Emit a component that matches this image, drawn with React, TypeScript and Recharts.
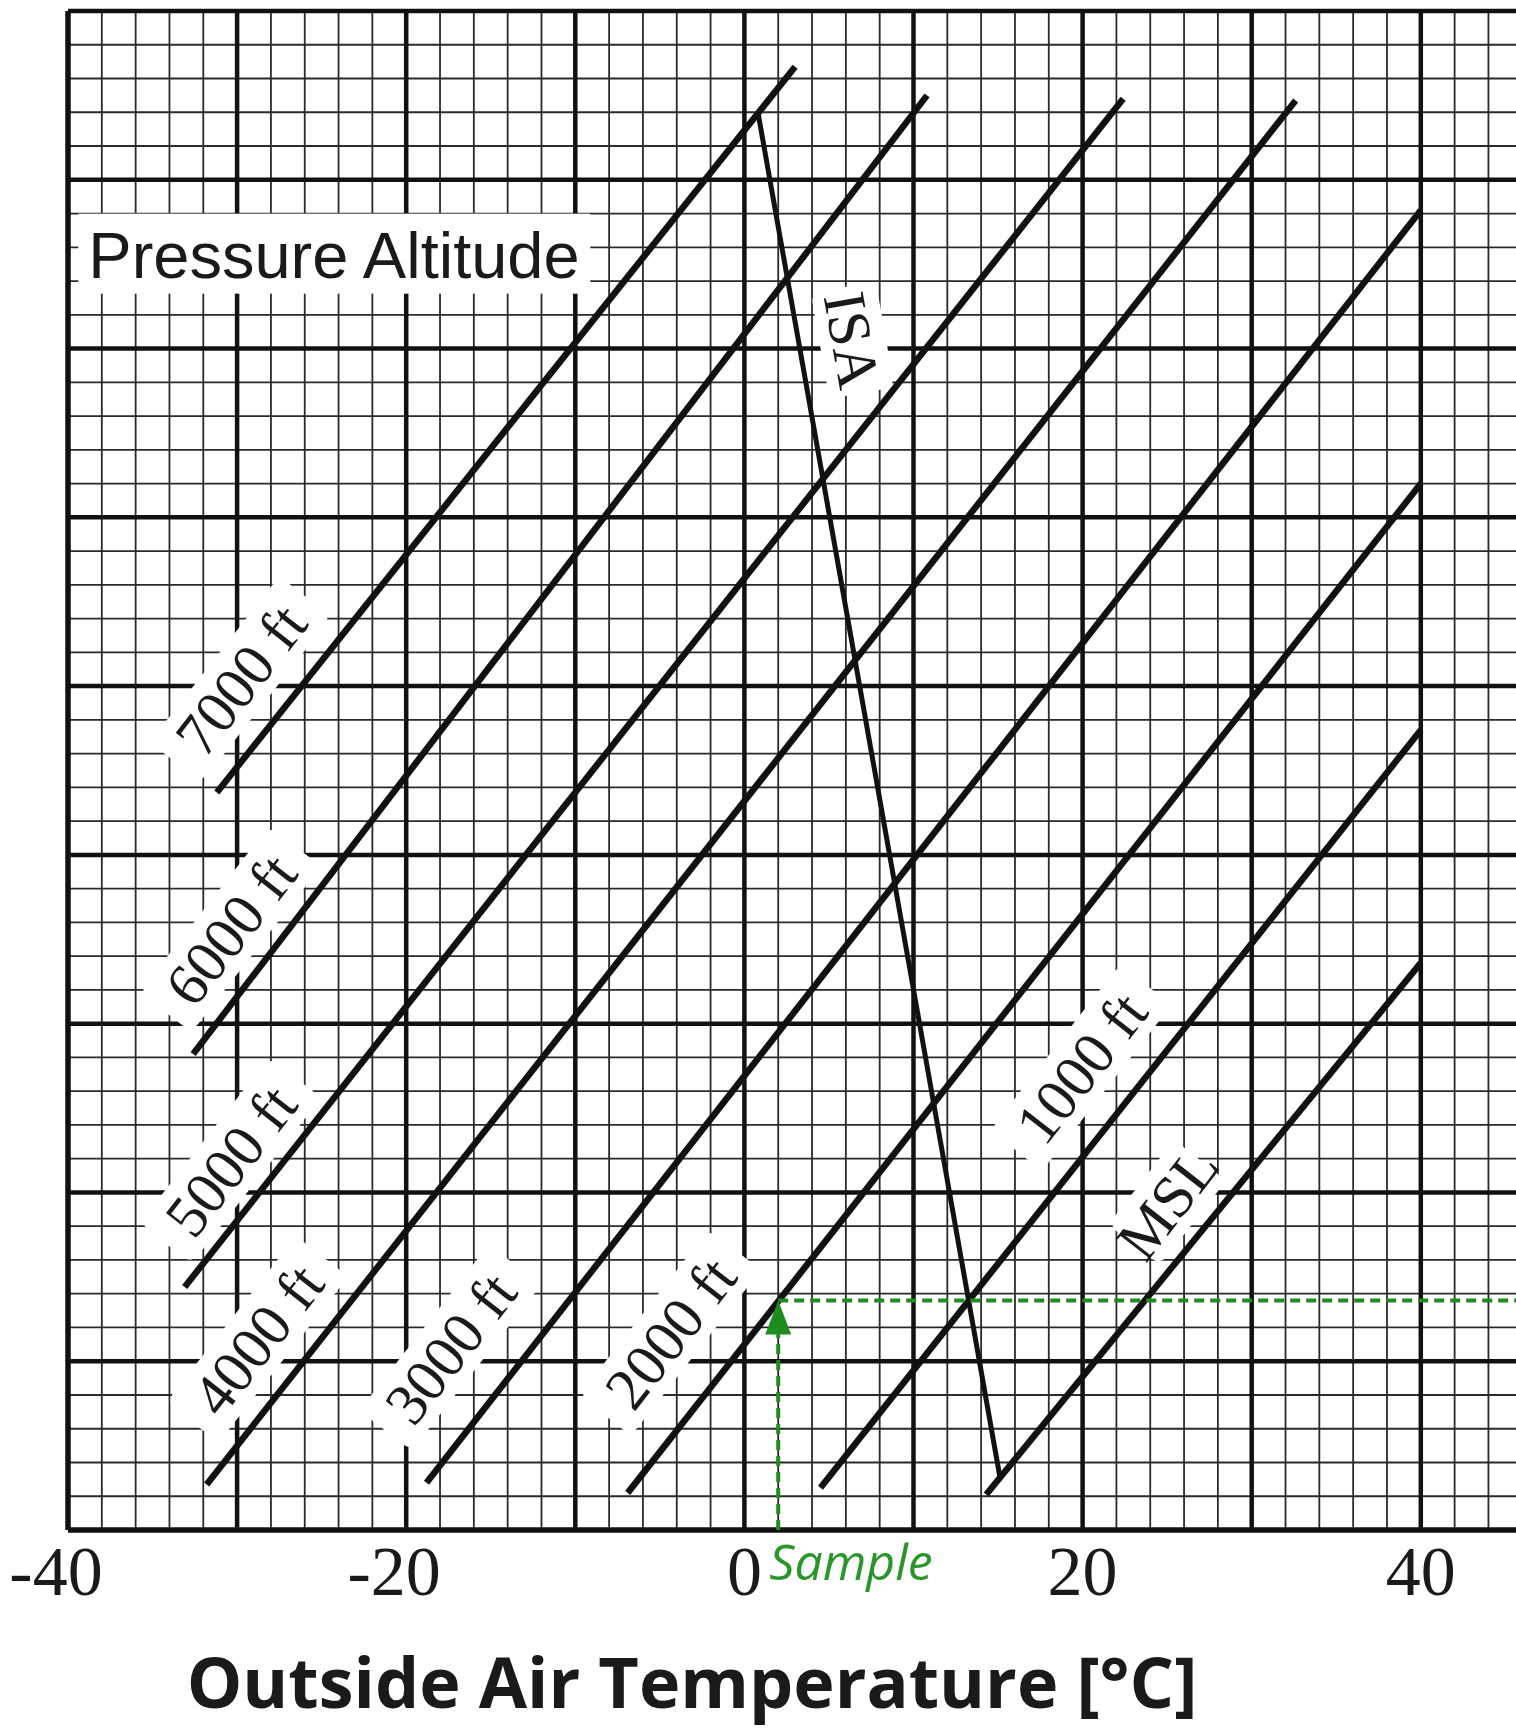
import React from "react";
import {
    ComposedChart,
    Line,
    XAxis,
    YAxis,
    ReferenceLine,
    ReferenceDot,
} from "recharts";

// ─── Data ───────────────────────────────────────────────
const tempTicks = [-40, -20, 0, 20, 40];
const tempMax = 45.63;

// pressure altitude lines (temperature °C, chart grid units 0..90)
const altitudeNames = ["7000 ft", "6000 ft", "5000 ft", "4000 ft", "3000 ft", "2000 ft", "1000 ft", "MSL"];
const lineStartTemp = [-31.2, -32.6, -33.1, -31.8, -18.8, -6.9, 4.5, 14.3];
const lineStartY = [43.7, 28.2, 14.4, 2.7, 2.8, 2.2, 2.5, 2.1];
const lineEndTemp = [3.0, 10.8, 22.4, 32.6, 40.0, 40.0, 40.0, 40.0];
const lineEndY = [86.7, 85.0, 84.8, 84.7, 78.2, 62.0, 47.4, 33.6];

// where each altitude label sits
const labelTemp = [-29.8, -30.4, -30.4, -28.8, -17.4, -4.4, 19.9, 25.0];
const labelY = [50.4, 35.6, 21.9, 11.3, 10.8, 11.7, 27.4, 19.4];

// ISA line
const isaTemp = [0.8, 15.1];
const isaY = [84.0, 3.2];
const isaLabelTemp = 6.4;
const isaLabelY = 70.5;

// sample reading
const sampleTemp = 2;
const sampleY = 13.6;
const sampleArrowBaseY = 11.6;

const titleAnchorTemp = -38.8;
const titleAnchorY = 74.2;

// ─── Helpers ────────────────────────────────────────────
const SERIF = "'Liberation Serif', 'DejaVu Serif', serif";
const SANS = "'Open Sans', 'Noto Sans', sans-serif";
const GREEN = "#1e8c1e";

function range(from: number, to: number, step: number): number[] {
    const out: number[] = [];
    for (let v = from; v <= to + 1e-9; v += step) out.push(v);
    return out;
}

const majorT = range(-40, 40, 10);
const minorT = range(-40, 44, 2).filter((v) => v % 10 !== 0);
const majorY = range(0, 90, 10);
const minorY = range(0, 90, 2).filter((v) => v % 10 !== 0);

const altitudeLines = altitudeNames.map((name, i) => ({
    name,
    data: [
        { x: lineStartTemp[i], y: lineStartY[i] },
        { x: lineEndTemp[i], y: lineEndY[i] },
    ],
}));

const isaData = isaTemp.map((t, i) => ({ x: t, y: isaY[i] }));
const sampleUp = [
    { x: sampleTemp, y: 0 },
    { x: sampleTemp, y: sampleArrowBaseY },
];
const sampleAcross = [
    { x: sampleTemp, y: sampleY },
    { x: tempMax, y: sampleY },
];

// ─── Label shapes ───────────────────────────────────────
function RotatedLabel({ cx, cy, text, angle }: { cx: number; cy: number; text: string; angle: number }) {
    const fontSize = 60;
    const w = text.length * fontSize * 0.43 + 30;
    const h = fontSize + 6;
    return (
        <g transform={`translate(${cx},${cy}) rotate(${angle})`}>
            <rect x={-w / 2} y={-h / 2} width={w} height={h} rx={10} fill="#fff" />
            <text
                textAnchor="middle"
                dy="0.35em"
                fontFamily={SERIF}
                fontSize={fontSize}
                fill="#1a1a1a"
            >
                {text}
            </text>
        </g>
    );
}

function TempTick({ x, y, payload }: { x: number; y: number; payload: { value: number } }) {
    const v = payload.value;
    const shift = v < 0 ? -12 : 0; // digits centred on the tick, minus hangs left
    return (
        <text x={x + shift} y={y + 65} textAnchor="middle" fontFamily={SERIF} fontSize={70} fill="#1a1a1a">
            {v}
        </text>
    );
}

function AxisTitle(props: any) {
    const vb = props.viewBox || { x: 68, y: 1530 };
    return (
        <text
            x={vb.x + 624}
            y={vb.y + 178}
            textAnchor="middle"
            fontFamily={SANS}
            fontWeight={700}
            fontSize={70}
            fill="#1a1a1a"
        >
            Outside Air Temperature [°C]
        </text>
    );
}

// ─── Component ──────────────────────────────────────────
export default function App() {
    return (
        <div style={{ position: "absolute", left: 0, top: 0, width: 1516, height: 1728, background: "#fff" }}>
            <ComposedChart width={1516} height={1728} margin={{ top: 11, right: 0, left: 68, bottom: 98 }}>
                <XAxis
                    dataKey="x"
                    type="number"
                    domain={[-40, tempMax]}
                    allowDataOverflow
                    ticks={tempTicks}
                    tick={TempTick as any}
                    tickLine={false}
                    axisLine={false}
                    tickSize={0}
                    tickMargin={0}
                    height={100}
                    label={AxisTitle as any}
                />
                <YAxis type="number" domain={[0, 90]} allowDataOverflow hide />

                {/* Minor grid */}
                {minorT.map((v) => (
                    <ReferenceLine key={`mt${v}`} x={v} stroke="#2a2a2a" strokeWidth={1.8} zIndex={-100} />
                ))}
                {minorY.map((v) => (
                    <ReferenceLine key={`my${v}`} y={v} stroke="#2a2a2a" strokeWidth={1.8} zIndex={-100} />
                ))}

                {/* Major grid */}
                {majorT.map((v) => (
                    <ReferenceLine key={`Mt${v}`} x={v} stroke="#111" strokeWidth={v === -40 ? 5.5 : 4.5} zIndex={-90} />
                ))}
                {majorY.map((v) => (
                    <ReferenceLine key={`My${v}`} y={v} stroke="#111" strokeWidth={v === 0 ? 5.5 : 4.5} zIndex={-90} />
                ))}

                {/* Pressure Altitude heading */}
                <ReferenceDot
                    x={titleAnchorTemp}
                    y={titleAnchorY}
                    r={0}
                    zIndex={50}
                    shape={(p: any) => (
                        <g>
                            <rect x={p.cx - 10} y={p.cy - 64} width={512} height={80} fill="#fff" />
                            <text x={p.cx} y={p.cy} fontFamily="'Liberation Sans', Arial, sans-serif" fontSize={65} fill="#1a1a1a">
                                Pressure Altitude
                            </text>
                        </g>
                    )}
                />

                {/* Altitude labels */}
                {altitudeNames.map((name, i) => (
                    <ReferenceDot
                        key={`lbl${name}`}
                        x={labelTemp[i]}
                        y={labelY[i]}
                        r={0}
                        zIndex={50}
                        shape={(p: any) => <RotatedLabel cx={p.cx} cy={p.cy} text={name} angle={-52} />}
                    />
                ))}

                {/* Pressure altitude lines */}
                {altitudeLines.map((l) => (
                    <Line
                        key={l.name}
                        data={l.data}
                        dataKey="y"
                        type="linear"
                        stroke="#111"
                        strokeWidth={6.5}
                        dot={false}
                        activeDot={false}
                        isAnimationActive={false}
                        zIndex={100}
                    />
                ))}

                {/* ISA */}
                <ReferenceDot
                    x={isaLabelTemp}
                    y={isaLabelY}
                    r={0}
                    zIndex={150}
                    shape={(p: any) => <RotatedLabel cx={p.cx} cy={p.cy} text="ISA" angle={80} />}
                />
                <Line
                    data={isaData}
                    dataKey="y"
                    type="linear"
                    stroke="#111"
                    strokeWidth={5}
                    dot={false}
                    activeDot={false}
                    isAnimationActive={false}
                    zIndex={200}
                />

                {/* Sample */}
                <Line
                    data={sampleUp}
                    dataKey="y"
                    type="linear"
                    stroke={GREEN}
                    strokeWidth={4}
                    strokeDasharray="10 6"
                    dot={false}
                    activeDot={false}
                    isAnimationActive={false}
                    zIndex={300}
                />
                <Line
                    data={sampleAcross}
                    dataKey="y"
                    type="linear"
                    stroke={GREEN}
                    strokeWidth={4}
                    strokeDasharray="10 6"
                    dot={false}
                    activeDot={false}
                    isAnimationActive={false}
                    zIndex={300}
                />
                <ReferenceDot
                    x={sampleTemp}
                    y={sampleY}
                    r={0}
                    zIndex={310}
                    shape={(p: any) => (
                        <polygon
                            points={`${p.cx},${p.cy} ${p.cx - 13},${p.cy + 34} ${p.cx + 13},${p.cy + 34}`}
                            fill={GREEN}
                        />
                    )}
                />
                <ReferenceDot
                    x={sampleTemp}
                    y={0}
                    r={0}
                    zIndex={320}
                    shape={(p: any) => (
                        <text x={p.cx - 9} y={p.cy + 50} fontFamily={SANS} fontStyle="italic" fontSize={50} fill="#2a962a">
                            Sample
                        </text>
                    )}
                />
            </ComposedChart>
        </div>
    );
}
